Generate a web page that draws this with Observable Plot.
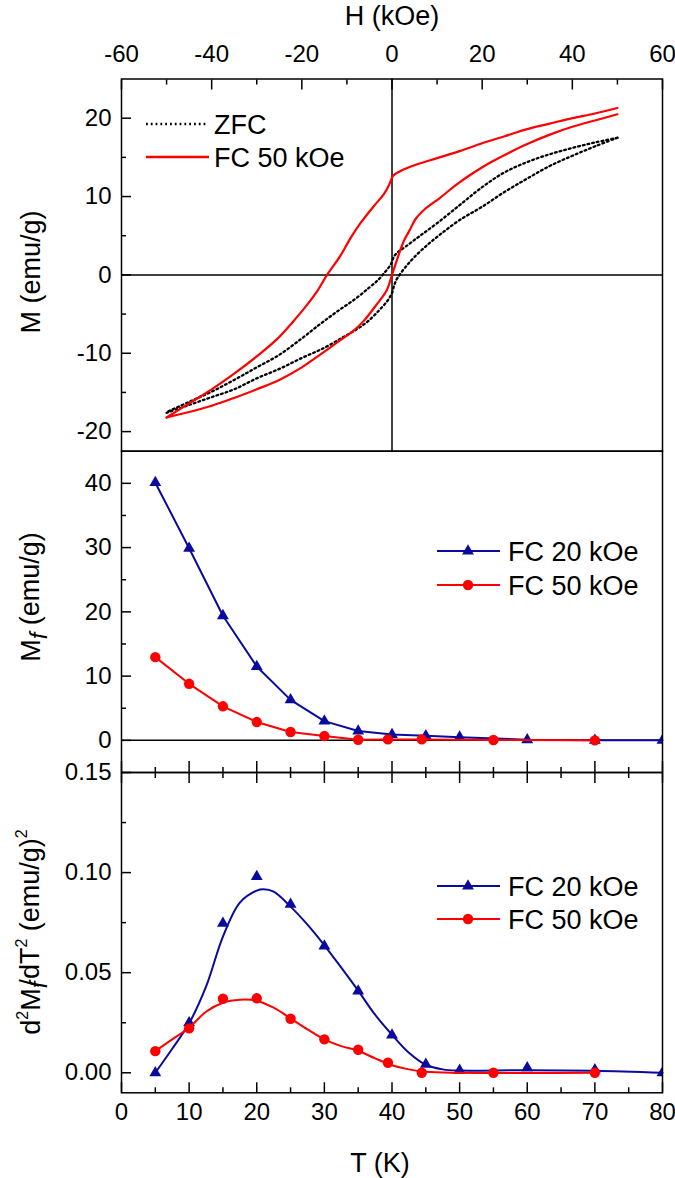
<!DOCTYPE html>
<html>
<head>
<meta charset="utf-8">
<script src="https://cdn.jsdelivr.net/npm/d3@7"></script>
<script src="https://cdn.jsdelivr.net/npm/@observablehq/plot@0.6"></script>
<style>
html, body { margin: 0; padding: 0; background: #ffffff; }
#wrap { position: relative; width: 675px; height: 1178px; overflow: hidden; background: #ffffff; }
#wrap svg { position: absolute; left: 0; top: 0; }
</style>
</head>
<body>
<div id="wrap"></div>
<script>
// ---------- Panel 1: M vs H hysteresis loops ----------
const zfcDownH = [50, 45, 40, 35, 30, 25, 20, 15, 10, 6, 3, 1.5, 0.5, -0.3, -1.5, -3, -5, -8, -12, -16, -20, -25, -30, -35, -40, -45, -50];
const zfcDownM = [17.5, 16.9, 16.2, 15.4, 14.4, 13.1, 11.2, 8.9, 6.6, 4.9, 3.6, 3.0, 2.4, 1.3, 0.4, -0.6, -1.6, -3.0, -4.6, -6.3, -8.1, -10.2, -11.8, -13.4, -14.9, -16.2, -17.5];
const zfcUpH = [-50, -45, -40, -35, -30, -25, -20, -15, -11, -8, -5.5, -3, -1, 0, 0.5, 1.2, 3, 5, 8, 11, 15, 20, 25, 30, 35, 40, 45, 50];
const zfcUpM = [-17.6, -16.6, -15.6, -14.6, -13.2, -12.0, -10.6, -9.3, -8.0, -7.0, -6.0, -4.6, -3.3, -2.3, -1.3, -0.4, 1.0, 2.3, 3.9, 5.3, 7.0, 8.7, 10.6, 12.3, 13.9, 15.2, 16.4, 17.5];
const fcDownH = [50, 45, 40, 35, 30, 25, 20, 15, 10, 5, 2, 0.3, 0, -0.8, -1.8, -4, -7, -9.2, -11.5, -14.4, -16.5, -18.8, -22, -25.5, -30, -35, -40, -45, -50];
const fcDownM = [21.3, 20.6, 20.0, 19.3, 18.6, 17.7, 16.8, 15.8, 14.9, 14.0, 13.3, 12.7, 12.4, 11.3, 10.3, 8.8, 6.6, 4.7, 2.4, 0, -2.0, -3.8, -6.0, -8.2, -10.4, -12.6, -14.6, -16.4, -18.2];
const fcUpH = [-50, -45, -40, -35, -30, -25, -20, -16, -11.4, -8.5, -6.3, -3.7, -1.2, 0, 0.8, 1.5, 2.6, 4, 5.2, 7.5, 10.8, 14, 18, 22, 26, 30, 35, 40, 45, 50];
const fcUpM = [-18.2, -17.5, -16.7, -15.7, -14.6, -13.4, -11.8, -10.2, -8.3, -7.1, -5.9, -4.0, -2.0, 0, 1.4, 2.6, 4.3, 5.8, 7.1, 8.5, 9.9, 11.4, 13.0, 14.4, 15.6, 16.7, 17.9, 18.9, 19.7, 20.5];

// ---------- Panel 2: Mf vs T ----------
const t20 = [5, 10, 15, 20, 25, 30, 35, 40, 45, 50, 60, 70, 80];
const mf20 = [40.1, 29.9, 19.4, 11.5, 6.3, 3.0, 1.45, 0.9, 0.7, 0.5, 0.1, 0.0, 0.0];
const t50 = [5, 10, 15, 20, 25, 30, 35, 39.4, 44.4, 55, 70];
const mf50 = [12.95, 8.8, 5.3, 2.85, 1.3, 0.67, 0.1, 0.15, 0.15, 0.05, 0.0];

// ---------- Panel 3: d2Mf/dT2 vs T ----------
const d2m20 = [0.000, 0.025, 0.0747, 0.098, 0.0842, 0.0633, 0.0408, 0.0188, 0.0042, 0.0012, 0.0025, 0.0015, 0.0];
const d2m50 = [0.0108, 0.0222, 0.037, 0.0372, 0.027, 0.0167, 0.0115, 0.005, 0.0, 0.0, 0.0];
// smooth fitted curves
const fit20T = [5, 7.5, 10, 12.5, 15, 17.5, 20, 21, 22.5, 25, 27.5, 30, 32.5, 35, 37.5, 40, 42.5, 45, 47.5, 50, 60, 70, 80];
const fit20V = [0.0, 0.012, 0.0247, 0.043, 0.068, 0.085, 0.0910, 0.0917, 0.0905, 0.083, 0.074, 0.0637, 0.0525, 0.041, 0.029, 0.019, 0.010, 0.004, 0.0017, 0.0011, 0.0013, 0.0010, 0.0];
const fit50T = [5, 7.5, 10, 12.5, 15, 17.5, 20, 22.5, 25, 27.5, 30, 32.5, 35, 37.5, 40, 42.5, 45, 50, 70];
const fit50V = [0.0108, 0.0167, 0.0225, 0.0305, 0.035, 0.0365, 0.0360, 0.0325, 0.0272, 0.0217, 0.0167, 0.0133, 0.0110, 0.0072, 0.0038, 0.0017, 0.0005, 0.0, 0.0];

// ---------- Ticks ----------
const hMajor = [-60, -40, -20, 0, 20, 40, 60];
const hMinor = [-50, -30, -10, 10, 30, 50];
const mMajor = [-20, -10, 0, 10, 20];
const mMinor = [-15, -5, 5, 15];
const mfMajor = [0, 10, 20, 30, 40];
const mfMinor = [5, 15, 25, 35];
const dMajor = [0, 0.05, 0.10, 0.15];
const dMinor = [0.025, 0.075, 0.125];
const tMajor = [0, 10, 20, 30, 40, 50, 60, 70, 80];
const tMinor = [5, 15, 25, 35, 45, 55, 65, 75];

const seriesLabels = ["ZFC", "FC 50 kOe", "FC 20 kOe"];

const FONT = '"Liberation Sans", Arial, Helvetica, sans-serif';
const BLUE = "#0a0a9e";
const RED = "#ff0000";
const W = 675, HH = 1178;
const L = 121, R = 662;
const P1 = [78.5, 450.7], P2 = [450.7, 772], P3 = [772, 1092.3];
const DOTS = "1.8,3";

const zip = (xs, ys, kx, ky) => xs.map((x, i) => ({[kx]: x, [ky]: ys[i]}));
const blank = () => "";

function base(p) {
  return {
    width: W, height: HH,
    marginLeft: L, marginRight: W - R, marginTop: p[0], marginBottom: HH - p[1],
    style: {background: "transparent", fontFamily: FONT, fontSize: "24px", color: "black", overflow: "visible"}
  };
}
const tickOpts = {strokeWidth: 1.5, label: null};

const wrap = document.getElementById("wrap");

// Panel 1
const p1 = Plot.plot({
  ...base(P1),
  x: {domain: [-60, 60]},
  y: {domain: [-22.5, 25]},
  marks: [
    Plot.ruleY([0], {stroke: "black", strokeWidth: 1.5}),
    Plot.ruleX([0], {stroke: "black", strokeWidth: 1.5}),
    Plot.line(zip(zfcDownH, zfcDownM, "H", "M"), {x: "H", y: "M", stroke: "black", strokeWidth: 2.3, strokeDasharray: DOTS, curve: "catmull-rom"}),
    Plot.line(zip(zfcUpH, zfcUpM, "H", "M"), {x: "H", y: "M", stroke: "black", strokeWidth: 2.3, strokeDasharray: DOTS, curve: "catmull-rom"}),
    Plot.line(zip(fcDownH, fcDownM, "H", "M"), {x: "H", y: "M", stroke: RED, strokeWidth: 2.2, curve: "catmull-rom"}),
    Plot.line(zip(fcUpH, fcUpM, "H", "M"), {x: "H", y: "M", stroke: RED, strokeWidth: 2.2, curve: "catmull-rom"}),
    Plot.frame({stroke: "black", strokeWidth: 1.5}),
    Plot.axisX(hMajor, {...tickOpts, anchor: "top", tickSize: -10, tickFormat: blank}),
    Plot.axisX(hMinor, {...tickOpts, anchor: "top", tickSize: -5, tickFormat: blank}),
    Plot.axisX(hMajor, {anchor: "top", tickSize: 0, tickPadding: 17, label: null, tickFormat: d => String(d)}),
    Plot.axisY(mMajor, {...tickOpts, anchor: "left", tickSize: -10, tickFormat: blank}),
    Plot.axisY(mMinor, {...tickOpts, anchor: "left", tickSize: -5, tickFormat: blank}),
    Plot.axisY(mMajor, {anchor: "left", tickSize: 0, tickPadding: 10, label: null, tickFormat: d => String(d)})
  ]
});
wrap.appendChild(p1);

// Panel 2
const p2 = Plot.plot({
  ...base(P2),
  x: {domain: [0, 80]},
  y: {domain: [-5, 45]},
  marks: [
    Plot.ruleY([0], {stroke: "black", strokeWidth: 1.5}),
    Plot.line(zip(t20, mf20, "T", "v"), {x: "T", y: "v", stroke: BLUE, strokeWidth: 2}),
    Plot.dot(zip(t20, mf20, "T", "v"), {x: "T", y: "v", symbol: "triangle", r: 4.4, fill: BLUE, clip: true}),
    Plot.line(zip(t50, mf50, "T", "v"), {x: "T", y: "v", stroke: RED, strokeWidth: 2}),
    Plot.dot(zip(t50, mf50, "T", "v"), {x: "T", y: "v", symbol: "circle", r: 5.2, fill: RED}),
    Plot.frame({stroke: "black", strokeWidth: 1.5}),
    Plot.axisX(tMajor, {...tickOpts, anchor: "bottom", tickSize: -11, tickFormat: blank}),
    Plot.axisX(tMinor, {...tickOpts, anchor: "bottom", tickSize: -5, tickFormat: blank}),
    Plot.axisY(mfMajor, {...tickOpts, anchor: "left", tickSize: -10, tickFormat: blank}),
    Plot.axisY(mfMinor, {...tickOpts, anchor: "left", tickSize: -5, tickFormat: blank}),
    Plot.axisY(mfMajor, {anchor: "left", tickSize: 0, tickPadding: 10, label: null, tickFormat: d => String(d)})
  ]
});
wrap.appendChild(p2);

// Panel 3
const f2 = d3.format(".2f");
const p3 = Plot.plot({
  ...base(P3),
  x: {domain: [0, 80]},
  y: {domain: [-0.01, 0.15]},
  marks: [
    Plot.line(zip(fit20T, fit20V, "T", "v"), {x: "T", y: "v", stroke: BLUE, strokeWidth: 2, curve: "catmull-rom"}),
    Plot.dot(zip(t20, d2m20, "T", "v"), {x: "T", y: "v", symbol: "triangle", r: 4.4, fill: BLUE, clip: true}),
    Plot.line(zip(fit50T, fit50V, "T", "v"), {x: "T", y: "v", stroke: RED, strokeWidth: 2, curve: "catmull-rom"}),
    Plot.dot(zip(t50, d2m50, "T", "v"), {x: "T", y: "v", symbol: "circle", r: 5.2, fill: RED}),
    Plot.frame({stroke: "black", strokeWidth: 1.5}),
    Plot.axisX(tMajor, {...tickOpts, anchor: "top", tickSize: -10, tickFormat: blank}),
    Plot.axisX(tMinor, {...tickOpts, anchor: "top", tickSize: -5, tickFormat: blank}),
    Plot.axisX(tMajor, {...tickOpts, anchor: "bottom", tickSize: -10, tickFormat: blank}),
    Plot.axisX(tMinor, {...tickOpts, anchor: "bottom", tickSize: -5, tickFormat: blank}),
    Plot.axisX(tMajor, {anchor: "bottom", tickSize: 0, tickPadding: 10, label: null, tickFormat: d => String(d)}),
    Plot.axisY(dMajor, {...tickOpts, anchor: "left", tickSize: -10, tickFormat: blank}),
    Plot.axisY(dMinor, {...tickOpts, anchor: "left", tickSize: -5, tickFormat: blank}),
    Plot.axisY(dMajor, {anchor: "left", tickSize: 0, tickPadding: 10, label: null, tickFormat: d => f2(d)})
  ]
});
wrap.appendChild(p3);

// ---------- Overlay: titles and legends ----------
const ov = d3.select(wrap).append("svg")
  .attr("width", W).attr("height", HH)
  .style("font-family", FONT).style("overflow", "visible");

ov.append("text").attr("x", 392).attr("y", 25).attr("text-anchor", "middle")
  .attr("font-size", 27).text("H (kOe)");
ov.append("text").attr("x", 380).attr("y", 1172).attr("text-anchor", "middle")
  .attr("font-size", 27).text("T (K)");

// Y titles
ov.append("text").attr("transform", "translate(40,272) rotate(-90)")
  .attr("text-anchor", "middle").attr("font-size", 27).text("M (emu/g)");

const yt2 = ov.append("text").attr("transform", "translate(40,597) rotate(-90)")
  .attr("text-anchor", "middle").attr("font-size", 27);
yt2.append("tspan").text("M");
yt2.append("tspan").attr("font-style", "italic").attr("dy", "0.3em").attr("font-size", 24).text("f");
yt2.append("tspan").attr("dy", "-0.3em").text(" (emu/g)");

const yt3 = ov.append("text").attr("transform", "translate(40,932) rotate(-90)")
  .attr("text-anchor", "middle").attr("font-size", 27);
yt3.append("tspan").text("d");
yt3.append("tspan").attr("font-size", 16).attr("dy", "-0.75em").text("2");
yt3.append("tspan").attr("dy", "0.45em").text("M");
yt3.append("tspan").attr("font-style", "italic").attr("font-size", 24).attr("dy", "0.3em").text("f");
yt3.append("tspan").attr("dy", "-0.3em").attr("dx", "-5").text("/dT");
yt3.append("tspan").attr("font-size", 16).attr("dy", "-0.75em").text("2");
yt3.append("tspan").attr("dy", "0.45em").text(" (emu/g)");
yt3.append("tspan").attr("font-size", 16).attr("dy", "-0.75em").text("2");

// Legend panel 1
function legLine(x1, x2, y, stroke, dash) {
  const l = ov.append("line").attr("x1", x1).attr("x2", x2).attr("y1", y).attr("y2", y)
    .attr("stroke", stroke).attr("stroke-width", 2.3);
  if (dash) l.attr("stroke-dasharray", dash);
}
function legText(x, y, t) {
  ov.append("text").attr("x", x).attr("y", y + 9.5).attr("font-size", 27).text(t);
}
legLine(146, 206, 124, "black", DOTS);
legText(214, 124, seriesLabels[0]);
legLine(146, 209, 157, RED, null);
legText(214, 157, seriesLabels[1]);

// Legends panels 2 & 3
const tri = d3.symbol(d3.symbolTriangle, Math.PI * 4.4 * 4.4);
const cir = d3.symbol(d3.symbolCircle, Math.PI * 5.2 * 5.2);
function legMark(y, color, sym, label) {
  ov.append("line").attr("x1", 437).attr("x2", 500).attr("y1", y).attr("y2", y)
    .attr("stroke", color).attr("stroke-width", 2);
  ov.append("path").attr("d", sym()).attr("transform", `translate(468,${y})`).attr("fill", color);
  legText(508, y, label);
}
legMark(551, BLUE, tri, seriesLabels[2]);
legMark(585, RED, cir, seriesLabels[1]);
legMark(886, BLUE, tri, seriesLabels[2]);
legMark(919, RED, cir, seriesLabels[1]);
</script>
</body>
</html>
